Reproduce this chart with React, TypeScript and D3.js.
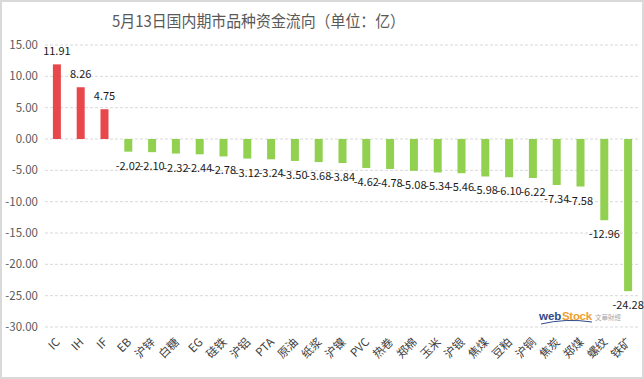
import React from "react";
import * as d3 from "d3";

const categories = ["IC","IH","IF","EB","沪锌","白糖","EG","硅铁","沪铝","PTA","原油","纸浆","沪镍","PVC","热卷","郑棉","玉米","沪银","焦煤","豆粕","沪铜","焦炭","郑煤","螺纹","铁矿"];
const values = [11.91,8.26,4.75,-2.02,-2.10,-2.32,-2.44,-2.78,-3.12,-3.24,-3.50,-3.68,-3.84,-4.62,-4.78,-5.08,-5.34,-5.46,-5.98,-6.10,-6.22,-7.34,-7.58,-12.96,-24.28];
const yTicks = [15,10,5,0,-5,-10,-15,-20,-25,-30];
const title = "5月13日国内期市品种资金流向（单位：亿）";

const W = 644, H = 379;
const FONT = "'Noto Sans CJK SC', 'Noto Sans', sans-serif";

export default function App() {
  const x = d3.scaleBand<string>().domain(categories).range([45, 640]);
  const y = d3.scaleLinear().domain([-30, 15]).range([327, 45]);
  const barW = 8;
  return (
    <div style={{ position: "fixed", left: 0, top: 0 }}>
      <svg width={W} height={H} style={{ display: "block", background: "#fff" }}>
        <rect x={1} y={1} width={W - 2} height={H - 2} fill="#fff" stroke="#d9d9d9" strokeWidth={2} />
        <text x={112} y={27} fontSize={16} fill="#595959" fontFamily={FONT} textLength={293} lengthAdjust="spacingAndGlyphs">{title}</text>
        {yTicks.map((t) => (
          <g key={t}>
            <line x1={45} x2={640} y1={y(t)} y2={y(t)} stroke="#d9d9d9" strokeDasharray="3,2" strokeWidth={1} />
            <text x={38} y={y(t)} dy="0.35em" textAnchor="end" fontSize={11.5} fill="#595959" fontFamily={FONT}>{t.toFixed(2)}</text>
          </g>
        ))}
        <g fontFamily="'Liberation Sans', sans-serif" fontWeight="bold">
          <text x={539} y={320} fontSize={11.5} fill="#2f4a8a">web</text>
          <text x={562} y={320} fontSize={11.5} fill="#f0a030" letterSpacing={-0.3}>Stock</text>
          <text x={595} y={320} fontSize={6.5} fill="#aaaaaa" fontWeight="normal" fontFamily={FONT}>文華財經</text>
          <path d="M541,324 Q566,318 592,322" stroke="#2f4a8a" strokeWidth={1} fill="none" />
        </g>
        {values.map((v, i) => {
          const c = categories[i];
          const cx = (x(c) as number) + x.bandwidth() / 2;
          const y0 = y(0), y1 = y(v);
          return (
            <g key={c}>
              <rect x={cx - barW / 2} y={Math.min(y0, y1)} width={barW} height={Math.abs(y1 - y0)} fill={v >= 0 ? "#e8474c" : "#92d050"} />
              <text x={cx} y={v >= 0 ? y1 - 9 : y1 + 18} textAnchor="middle" fontSize={11} fill="#1a1a1a" fontFamily={FONT}>{v.toFixed(2)}</text>
              <text transform={`translate(${cx + 1},${340}) rotate(-45)`} textAnchor="end" dy="0.35em" fontSize={11.5} fill="#404040" fontFamily={FONT}>{c}</text>
            </g>
          );
        })}
      </svg>
    </div>
  );
}
